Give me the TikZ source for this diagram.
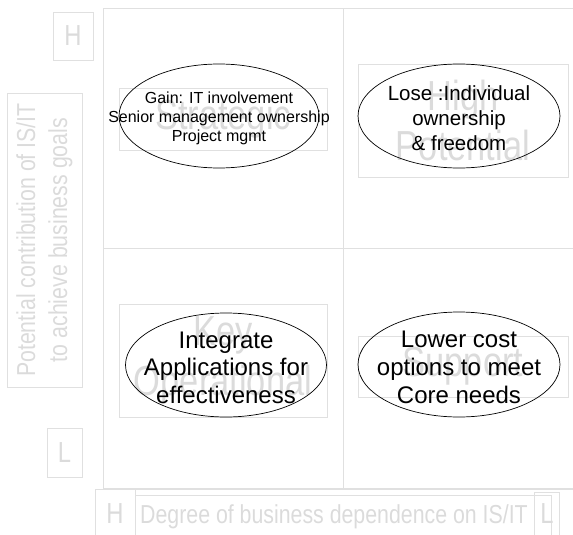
\documentclass[tikz,border=0pt]{standalone}
\usepackage{fontspec}
\setmainfont{Liberation Sans}
\newfontfamily\thinfont[FakeStretch=0.82]{Liberation Sans}
\usetikzlibrary{shapes, positioning}
\definecolor{faintline}{gray}{0.88}
\definecolor{fainttext}{gray}{0.86}

\begin{document}
\begin{tikzpicture}[x=1pt, y=-1pt,
		grid/.style={draw=faintline, line width=0.8pt},
		tag/.style={rectangle, draw=faintline, line width=0.8pt, text=fainttext, inner sep=0pt, align=center},
		bigtag/.style={tag, font=\thinfont\fontsize{42}{50}\selectfont},
		axistext/.style={text=fainttext, inner sep=0pt, font=\thinfont\fontsize{26}{32}\selectfont},
		oval/.style={ellipse, draw, line width=0.7pt, inner sep=0pt},
		note/.style={align=center, inner sep=0pt, yshift=-2.5pt}]
			\clip (0,0) rectangle (573,535);
			
			% quadrant grid
			\draw[grid] (573,8) -- (103,8) -- (103,488) -- (573,488);
			\draw[grid] (343,8) -- (343,488);
			\draw[grid] (103,248) -- (573,248);
			
			% quadrant names
			\node[bigtag, minimum width=208, minimum height=62] (strategic) at (223,119) {Strategic};
			\node[bigtag, minimum width=210, minimum height=113] (potential) at (463,120.5) {High\\Potential};
			\node[bigtag, minimum width=208, minimum height=113] (keyop) at (223,360.5) {Key\\Operational};
			\node[bigtag, minimum width=210, minimum height=61] (support) at (463,366.5) {Support};
			
			% vertical axis
			\node[tag, font=\thinfont\fontsize{29}{34}\selectfont, minimum width=40, minimum height=48] (yhigh) at (73,36) {H};
			\node[tag, font=\thinfont\fontsize{26}{32}\selectfont, rotate=90, minimum width=294, minimum height=75] (ylabel) at (44.5,240) {Potential contribution of IS/IT\\to achieve business goals};
			\node[tag, font=\thinfont\fontsize{29}{34}\selectfont, minimum width=35, minimum height=49] (ylow) at (64.5,452.5) {L};
			
			% horizontal axis
			\draw[grid] (95,489) rectangle (600,560);
			\draw[grid] (135,489) -- (135,560);
			\draw[grid] (135,495) rectangle (551,560);
			\draw[grid] (534,492) rectangle (559,560);
			\node[axistext, font=\thinfont\fontsize{29}{34}\selectfont, anchor=base] (xhigh) at (115,523) {H};
			\node[axistext, anchor=base west] (xlabel) at (140,523) {Degree of business dependence on IS/IT};
			\node[axistext, font=\thinfont\fontsize{29}{34}\selectfont, anchor=base] (xlow) at (547,523) {L};
			
			% ellipses with their notes
			\node[oval, minimum width=200, minimum height=104] (gain) at (219,116) {};
			\node[note, font=\fontsize{16}{19}\selectfont] (gaintext) at (gain) {Gain: IT involvement\\Senior management ownership\\Project mgmt};
			\node[oval, minimum width=202, minimum height=104] (lose) at (459,116) {};
			\node[note, font=\fontsize{20.5}{25}\selectfont] (losetext) at (lose) {Lose :Individual\\ownership\\\& freedom};
			\node[oval, minimum width=201, minimum height=104] (integrate) at (226,365) {};
			\node[note, font=\fontsize{24}{27.5}\selectfont] (integratetext) at (integrate) {Integrate\\Applications for\\effectiveness};
			\node[oval, minimum width=202, minimum height=105] (lower) at (459,364.5) {};
			\node[note, font=\fontsize{24}{28}\selectfont] (lowertext) at (lower) {Lower cost\\options to meet\\Core needs};
		\end{tikzpicture}
\end{document}
